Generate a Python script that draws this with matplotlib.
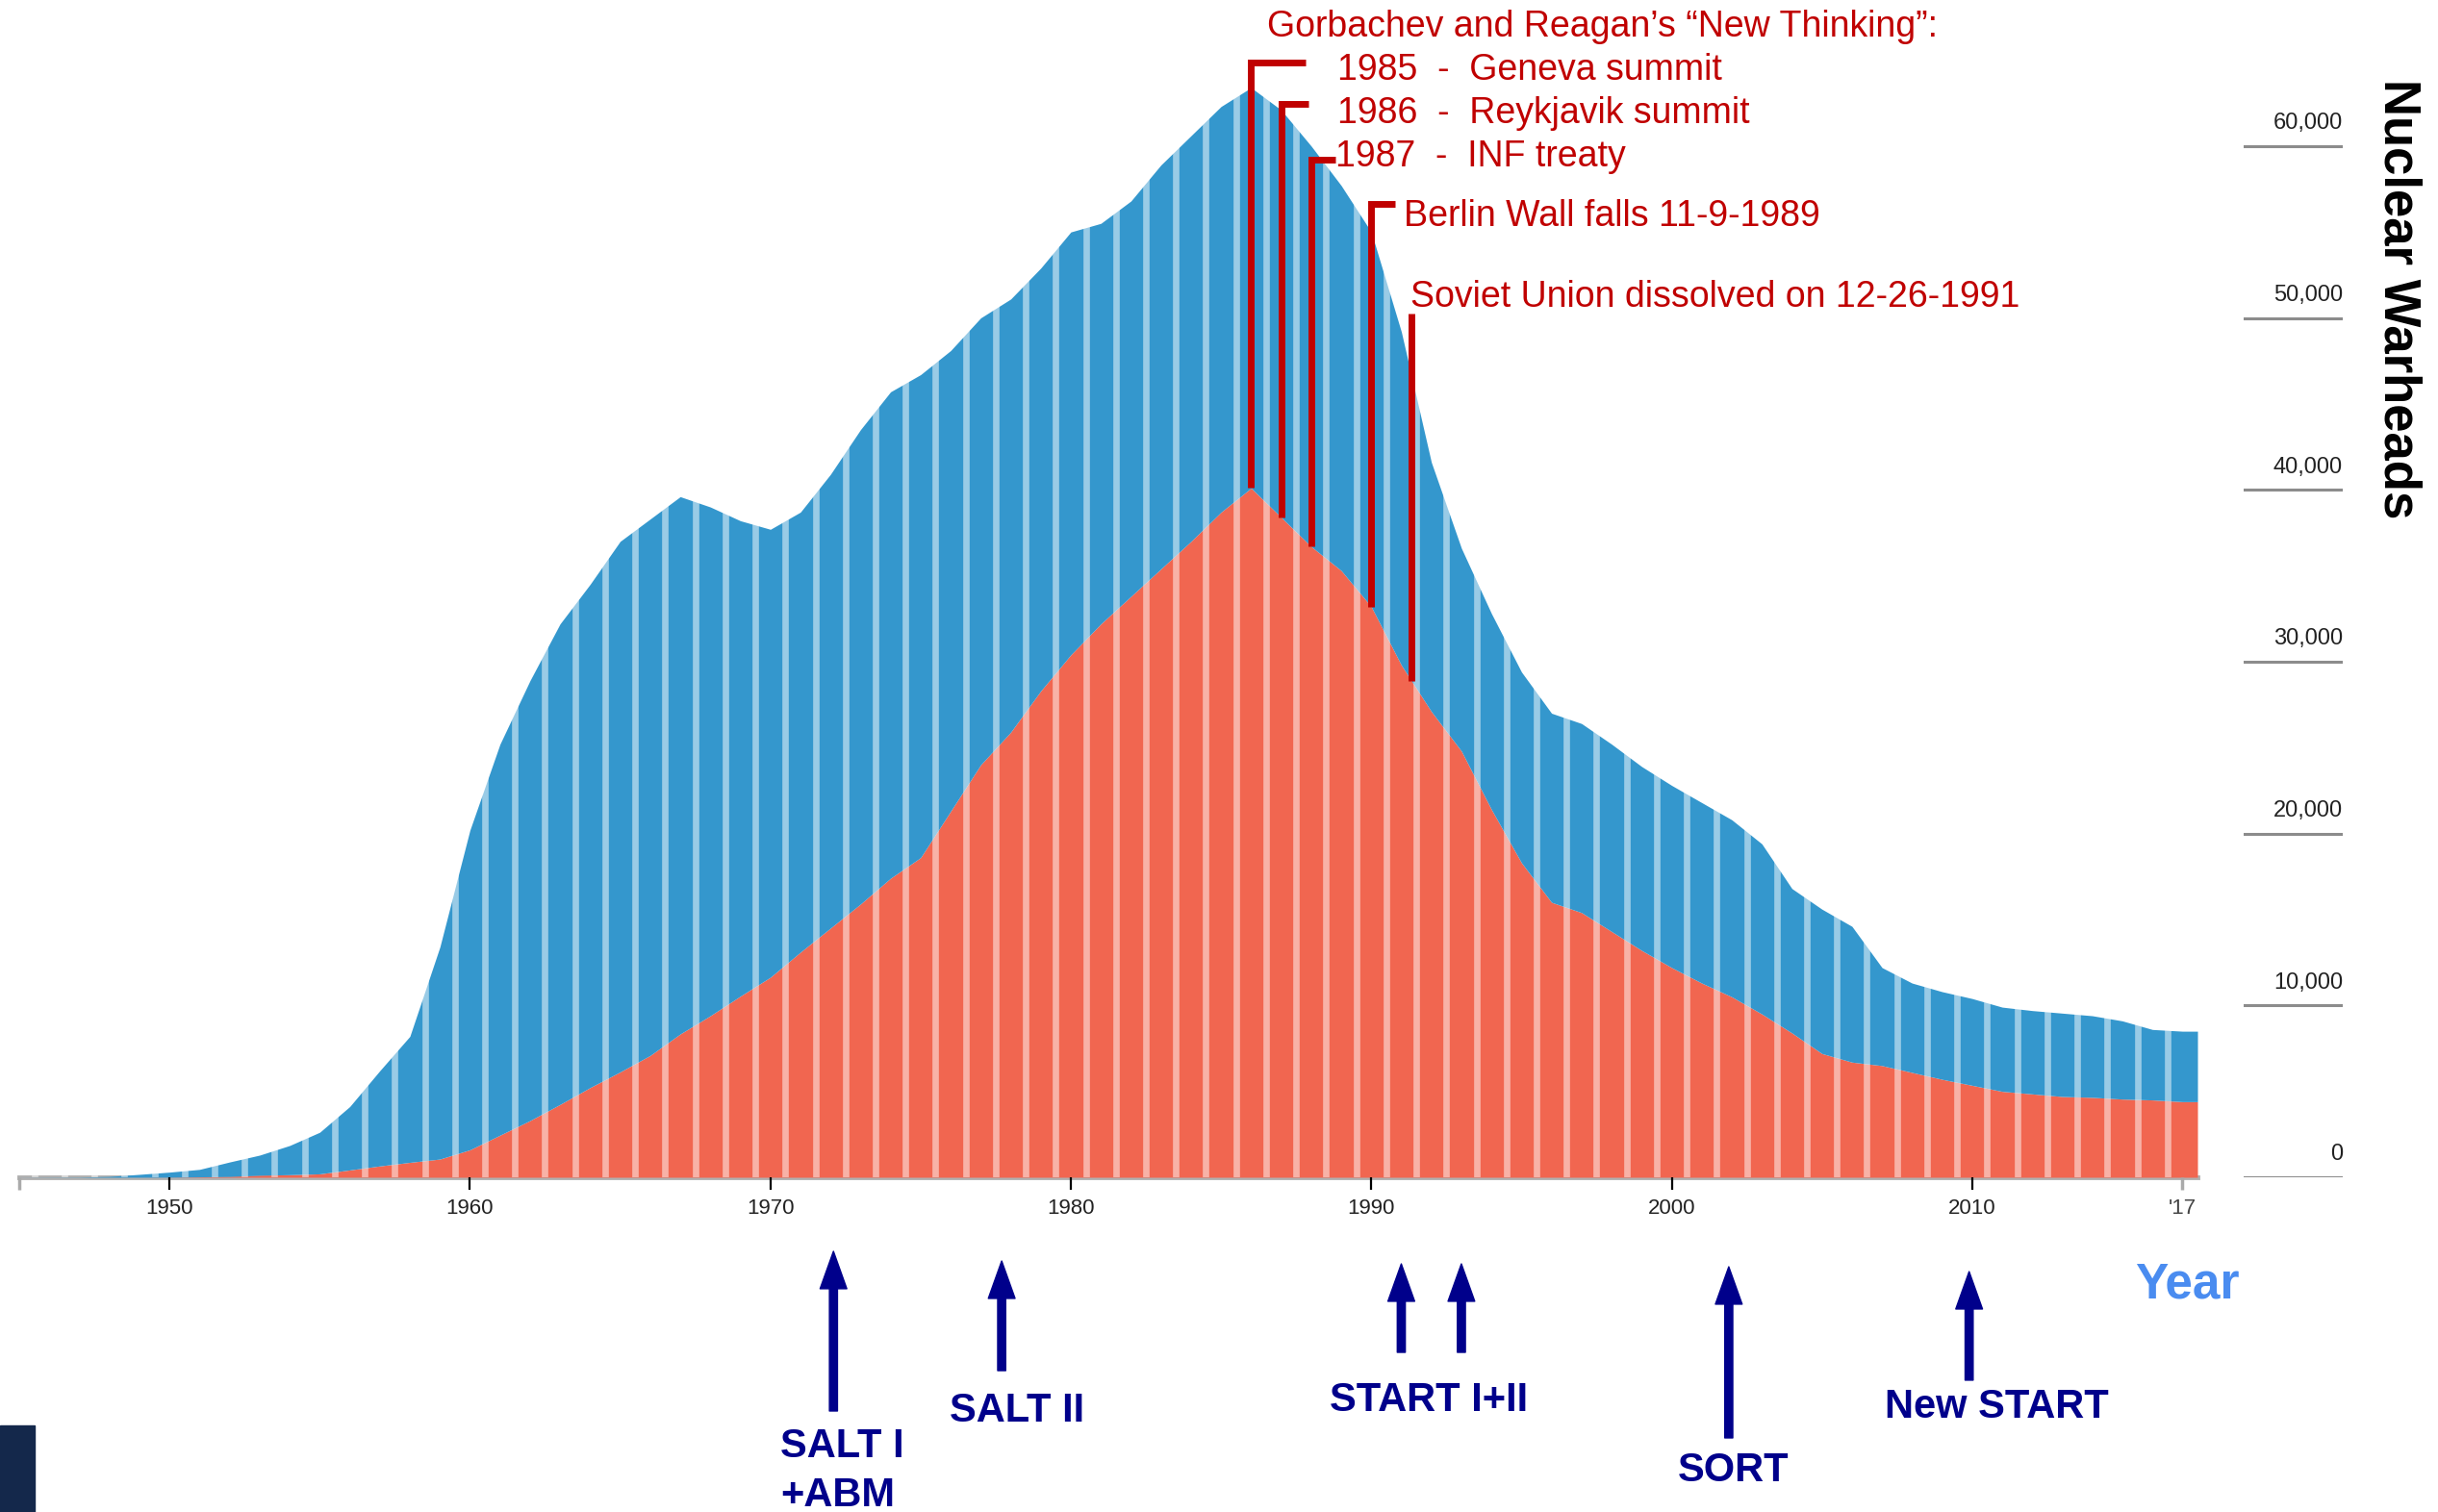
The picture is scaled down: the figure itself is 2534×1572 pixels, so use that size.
import numpy as np
import matplotlib
matplotlib.use("Agg")
import matplotlib.pyplot as plt
import matplotlib.patches as patches
import matplotlib.transforms as mtransforms
from matplotlib import font_manager

# data: warhead stockpiles
years = np.arange(1945, 2018)
ussr = [0, 0, 0, 0, 1, 5, 25, 50, 120, 150,
        200, 426, 660, 869, 1060, 1600, 2450, 3300, 4240, 5220,
        6130, 7090, 8340, 9400, 10540, 11640, 13100, 14500, 15900, 17400,
        18600, 21300, 24000, 25900, 28300, 30400, 32200, 33800, 35400, 37000,
        38700, 40100, 38400, 36700, 35300, 33200, 29800, 27100, 24800, 21400,
        18300, 16000, 15400, 14300, 13200, 12200, 11300, 10500, 9500, 8400,
        7200, 6700, 6500, 6100, 5700, 5350, 5000, 4850, 4700, 4650,
        4550, 4500, 4400]
usa = [2, 9, 13, 50, 170, 295, 435, 840, 1170, 1700,
       2420, 3690, 5540, 7330, 12340, 18600, 22750, 25600, 27960, 29280,
       30870, 31210, 31260, 29600, 27660, 26060, 25600, 26400, 27600, 28300,
       28100, 26800, 26000, 25200, 24600, 24600, 23300, 23000, 23500, 23600,
       23600, 23300, 23700, 23300, 22400, 21800, 19400, 14500, 11800, 11400,
       11100, 11000, 11000, 10900, 10700, 10600, 10500, 10300, 9900, 8400,
       8400, 7900, 5700, 5200, 5100, 5050, 4900, 4850, 4850, 4750,
       4550, 4100, 4100]

x_ticks = [1950, 1960, 1970, 1980, 1990, 2000, 2010]
y_ticks = [0, 10000, 20000, 30000, 40000, 50000, 60000]

# red event annotations: (text, line x, bracket top, bracket end x, text x, text y)
events = [
    ("1985  -  Geneva summit", 1986.0, 64860, 1987.8, 1988.87, 64410),
    ("1986  -  Reykjavik summit", 1987.0, 62450, 1987.9, 1988.87, 61890),
    ("1987  -  INF treaty", 1988.0, 59200, 1988.8, 1988.80, 59370),
    ("Berlin Wall falls 11-9-1989", 1990.0, 56630, 1990.8, 1991.08, 55900),
    ("Soviet Union dissolved on 12-26-1991", 1991.35, 50250, None, 1991.30, 51200),
]
event_title = "Gorbachev and Reagan\u2019s \u201cNew Thinking\u201d:"

# treaties: arrow x, tip / tail (figure fraction)
treaty_x = [1972.1, 1977.7, 1991.0, 1993.0, 2001.9, 2009.9]
treaty_tip = [0.1724, 0.166, 0.1641, 0.1641, 0.1622, 0.159]
treaty_tail = [0.0668, 0.0935, 0.1056, 0.1056, 0.049, 0.0872]
treaty_labels = [("SALT I", 1970.33, 0.0433), ("+ABM", 1970.33, 0.0108),
                 ("SALT II", 1975.96, 0.0668), ("START I+II", 1988.61, 0.0738),
                 ("SORT", 2000.20, 0.0274), ("New START", 2007.09, 0.0693)]

BLUE = "#3497cd"
RED = "#f16650"
DARKRED = "#c00000"
NAVY = "#00008b"

plt.rcParams['font.family'] = ['Liberation Sans', 'DejaVu Sans']

W, H = 2534, 1572
fig = plt.figure(figsize=(W / 100, H / 100), dpi=100)
ymax = 68000
bottom = (H - 1224) / H
height = (ymax / 10000 * 178.7) / H
ax = fig.add_axes([20 / W, bottom, 2264 / W, height])
ax.set_xlim(1945, 2017.5)
ax.set_ylim(0, ymax)

ussr = np.array(ussr, dtype=float)
usa = np.array(usa, dtype=float)
total = ussr + usa
xs = np.append(years, years[-1] + 0.5)
red_y = np.append(ussr, ussr[-1])
tot_y = np.append(total, total[-1])

ax.fill_between(xs, 0, red_y, color=RED, lw=0, zorder=1)
ax.fill_between(xs, red_y, tot_y, color=BLUE, lw=0, zorder=1)

# light stripes between the yearly columns
for b in years[:-1] + 0.5:
    ax.axvline(b, color="white", alpha=0.5, lw=4.8, zorder=2)

# event brackets
for text, lx, top, hx, tx, ty in events:
    base = np.interp(lx, years, ussr)
    if hx is None:
        ax.plot([lx, lx], [base, top], color=DARKRED, lw=5, zorder=3,
                solid_capstyle='butt')
    else:
        ax.plot([lx, lx, hx], [base, top, top], color=DARKRED, lw=5, zorder=3,
                solid_capstyle='butt', solid_joinstyle='miter')
    ax.text(tx, ty, text, color=DARKRED, fontsize=27, ha='left', va='center', zorder=4)
ax.text(1986.53, 66950, event_title, color=DARKRED, fontsize=27, ha='left',
        va='center', zorder=4)

# axes styling
for s in ['left', 'right', 'top']:
    ax.spines[s].set_visible(False)
ax.spines['bottom'].set_color('#b0b0b0')
ax.spines['bottom'].set_linewidth(3.5)
ax.spines['bottom'].set_zorder(0.5)
ax.set_yticks([])
ax.set_xticks(x_ticks)
ax.set_xticklabels([str(t) for t in x_ticks])
ax.set_xticks([1945, 2017], minor=True)
ax.set_xticklabels(['', "'17"], minor=True)
ax.tick_params(axis='x', which='major', length=9, width=1.6, color='black',
               labelsize=16, labelcolor='#222222', pad=7)
ax.tick_params(axis='x', which='minor', length=9, width=2.5, color='#aaaaaa',
               labelsize=16, labelcolor='#444444', pad=7)

# right value scale
ax2 = fig.add_axes([2332 / W, bottom, 103 / W, height])
ax2.set_ylim(0, ymax)
ax2.set_xlim(0, 1)
ax2.axis('off')
for v in y_ticks:
    ax2.axhline(v, color='#8c8c8c', lw=2.2)
    ax2.annotate(f"{v:,}", xy=(1, v), xycoords=('axes fraction', 'data'),
                 xytext=(0, 9), textcoords='offset points', ha='right',
                 va='bottom', fontsize=17, color='#222222')

names = {f.name for f in font_manager.fontManager.ttflist}
if 'Liberation Sans Narrow' in names:
    fig.text(2493 / W, 1 - 311 / H, "Nuclear Warheads", rotation=-90,
             family='Liberation Sans Narrow', fontsize=46, fontweight='bold',
             ha='center', va='center', color='black')
else:
    fig.text(2493 / W, 1 - 311 / H, "Nuclear Warheads", rotation=-90,
             fontsize=38, fontweight='bold', ha='center', va='center',
             color='black')

fig.text(2219 / W, 1 - 1336 / H, "Year", fontsize=37, fontweight='bold',
         color='#4a8cf0', ha='left', va='center')

# treaty arrows and labels
trans = mtransforms.blended_transform_factory(ax.transData, fig.transFigure)
for x, tip, tail in zip(treaty_x, treaty_tip, treaty_tail):
    ax.annotate('', xy=(x, tip), xycoords=trans, xytext=(x, tail),
                textcoords=trans, annotation_clip=False,
                arrowprops=dict(facecolor=NAVY, edgecolor=NAVY, width=6,
                                headwidth=20, headlength=28, shrink=0))
for label, lx, ly in treaty_labels:
    ax.text(lx, ly, label, transform=trans, fontsize=30, fontweight='bold',
            color=NAVY, ha='left', va='center')

fig.patches.append(patches.Rectangle((0, 0), 36 / W, 90 / H,
                                     transform=fig.transFigure,
                                     color='#14284b'))

fig.savefig("out.png", dpi=100)
